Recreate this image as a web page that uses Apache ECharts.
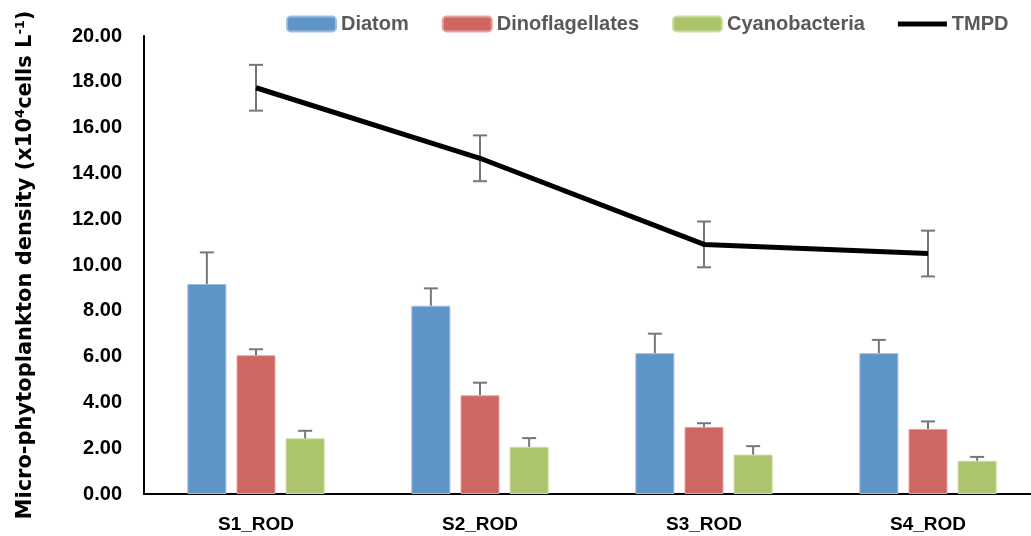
<!DOCTYPE html>
<html>
<head>
<meta charset="utf-8">
<script src="https://cdn.jsdelivr.net/npm/echarts@6/dist/echarts.min.js"></script>
<style>
  html, body { margin: 0; padding: 0; background: #fff; }
  #chart { width: 1031px; height: 536px; }
</style>
</head>
<body>
<div id="chart"></div>
<script>
// Sampling stations
const categories = ['S1_ROD', 'S2_ROD', 'S3_ROD', 'S4_ROD'];

// Group densities (x10^4 cells/L) with standard errors
const diatom = [9.17, 8.22, 6.15, 6.15];
const diatomErr = [1.38, 0.76, 0.85, 0.58];
const dino = [6.06, 4.31, 2.93, 2.84];
const dinoErr = [0.26, 0.55, 0.16, 0.33];
const cyano = [2.43, 2.06, 1.72, 1.45];
const cyanoErr = [0.33, 0.38, 0.37, 0.17];

// Total micro-phytoplankton density
const tmpd = [17.74, 14.66, 10.9, 10.5];
const tmpdErr = [1.0, 1.0, 1.0, 1.0];

const FONT = '"Liberation Sans", Arial, sans-serif';
const BAR_W = 39;
const BAR_GAP = 0.26;
const CAP = 7;
const ERR_COLOR = '#777777';

// Error bar drawer; slot is the bar position within a group (-1, 0, 1)
function errorBars(slot, plusOnly) {
  return function (params, api) {
    const i = api.value(0), v = api.value(1), e = api.value(2);
    const dx = slot * BAR_W * (1 + BAR_GAP);
    const hi = api.coord([i, v + e]);
    const lo = api.coord([i, plusOnly ? v : v - e]);
    const x = hi[0] + dx;
    const style = { stroke: ERR_COLOR, lineWidth: 2 };
    const kids = [
      { type: 'line', shape: { x1: x, y1: hi[1], x2: x, y2: lo[1] }, style },
      { type: 'line', shape: { x1: x - CAP, y1: hi[1], x2: x + CAP, y2: hi[1] }, style }
    ];
    if (!plusOnly) {
      kids.push({ type: 'line', shape: { x1: x - CAP, y1: lo[1], x2: x + CAP, y2: lo[1] }, style });
    }
    return { type: 'group', children: kids };
  };
}

function errData(vals, errs) {
  return vals.map((v, i) => [i, v, errs[i]]);
}

function errSeries(vals, errs, slot, plusOnly) {
  return {
    type: 'custom',
    renderItem: errorBars(slot, plusOnly),
    data: errData(vals, errs),
    encode: { x: 0, y: 1 },
    z: 5,
    silent: true
  };
}

const chart = echarts.init(document.getElementById('chart'), null, { renderer: 'canvas' });

chart.setOption({
  animation: false,
  textStyle: { fontFamily: FONT },
  legend: {
    data: [
      'Diatom', 'Dinoflagellates', 'Cyanobacteria',
      { name: 'TMPD', icon: 'path://M0,0H49V5H0Z' }
    ],
    left: 281,
    top: 9,
    itemWidth: 49,
    itemHeight: 15,
    itemGap: 33,
    symbolKeepAspect: true,
    textStyle: { fontFamily: FONT, fontSize: 20, fontWeight: 'bold', color: '#595959' }
  },
  grid: { left: 144, right: -9, top: 36, bottom: 42, containLabel: false, outerBoundsMode: 'none' },
  xAxis: {
    type: 'category',
    data: categories,
    axisLine: { show: true, lineStyle: { color: '#000', width: 2 } },
    axisTick: { show: false },
    axisLabel: { fontFamily: FONT, fontSize: 19, fontWeight: 'bold', color: '#000', margin: 21 }
  },
  yAxis: {
    type: 'value',
    min: 0,
    max: 20,
    interval: 2,
    name: 'Micro-phytoplankton density (x10{sup|4}cells L{sup|-1})',
    nameLocation: 'middle',
    nameGap: 107,
    nameTextStyle: {
      fontFamily: '"DejaVu Sans", sans-serif',
      fontSize: 21,
      fontWeight: 'bold',
      color: '#000',
      rich: {
        sup: {
          fontFamily: '"DejaVu Sans", sans-serif',
          fontSize: 13,
          fontWeight: 'bold',
          color: '#000',
          verticalAlign: 'top',
          padding: [0, 0, 10, 0]
        }
      }
    },
    axisLine: { show: true, lineStyle: { color: '#000', width: 2 } },
    axisTick: { show: false },
    splitLine: { show: false },
    axisLabel: {
      fontFamily: FONT, fontSize: 20, fontWeight: 'bold', color: '#000', margin: 22,
      formatter: v => v.toFixed(2)
    }
  },
  series: [
    { name: 'Diatom', type: 'bar', data: diatom, barWidth: BAR_W, barGap: (BAR_GAP * 100) + '%',
      itemStyle: { color: '#5F94C8', borderColor: '#9DBDE0', borderWidth: 1 }, z: 2 },
    { name: 'Dinoflagellates', type: 'bar', data: dino, barWidth: BAR_W,
      itemStyle: { color: '#CE6661', borderColor: '#E4A29F', borderWidth: 1 }, z: 2 },
    { name: 'Cyanobacteria', type: 'bar', data: cyano, barWidth: BAR_W,
      itemStyle: { color: '#ABC56C', borderColor: '#CCDCA3', borderWidth: 1 }, z: 2 },
    errSeries(diatom, diatomErr, -1, true),
    errSeries(dino, dinoErr, 0, true),
    errSeries(cyano, cyanoErr, 1, true),
    errSeries(tmpd, tmpdErr, 0, false),
    { name: 'TMPD', type: 'line', data: tmpd, symbol: 'none',
      lineStyle: { color: '#000', width: 5 }, itemStyle: { color: '#000' }, z: 10 }
  ]
});
</script>
</body>
</html>
